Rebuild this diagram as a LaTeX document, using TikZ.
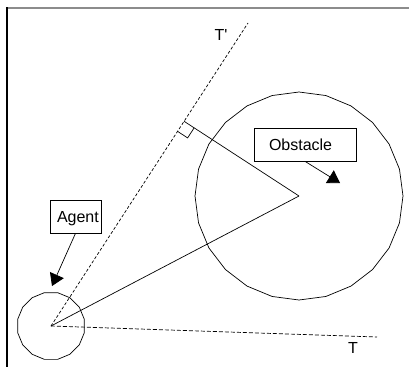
\documentclass[tikz,border=0pt]{standalone}
\usepackage{fontspec}
\setmainfont{Liberation Sans}
\usetikzlibrary{arrows.meta,calc,shapes.geometric}
\begin{document}
\begin{tikzpicture}[x=1pt,y=-1pt,
  thinline/.style={line width=0.7pt,black},
  dashT/.style={thinline,dash pattern=on 4pt off 2pt},
  dashTp/.style={thinline,dash pattern=on 3pt off 2pt},
  labelbox/.style={draw,thinline,minimum height=33pt,text height=11.5pt,text depth=0pt,align=left,font=\fontsize{16}{19}\selectfont},
  pointer/.style={thinline,-{Triangle[length=12pt,width=15pt]}},
  lbl/.style={inner sep=0pt,font=\fontsize{16}{19}\selectfont}]
\useasboundingbox (0,0) rectangle (409,367);
% frame
\draw[line width=2pt,gray!90] (7,8) -- (409,8);
\draw[line width=1.5pt,black] (7,7) -- (7,367);
% circles
\node[regular polygon,regular polygon sides=24,shape border rotate=7.5,minimum size=208pt,inner sep=0pt,outer sep=0pt,draw,thinline] (obstacle) at (299,196) {};
\node[regular polygon,regular polygon sides=16,minimum size=68pt,inner sep=0pt,outer sep=0pt,draw,thinline] (agent) at (51,326) {};
\coordinate (tpend) at (248,23);
\coordinate (tend) at (377,337);
% tangents
\draw[dashTp] (agent.center) -- (tpend);
\draw[dashT] (agent.center) -- (tend);
% lines
\draw[thinline] (agent.center) -- (obstacle.center);
\coordinate (foot) at ($(agent.center)!(obstacle.center)!(tpend)$);
\draw[thinline] (obstacle.center) -- (foot);
\coordinate (ra) at ($(foot)!12pt!(obstacle.center)$);
\coordinate (rb) at ($(foot)!12pt!(agent.center)$);
\draw[thinline] (ra) -- ($(ra)+(rb)-(foot)$) -- (rb);
% labels
\node[lbl] (tplabel) at (221,34.5) {T\textquotesingle};
\node[lbl] (tlabel) at (353,348) {T};
\node[labelbox,inner xsep=15pt,text width=72pt] (obsbox) at (305,144.5) {Obstacle};
\node[labelbox,inner xsep=7pt,text width=37pt] (agentbox) at (75.5,216.5) {Agent};
\coordinate (obstip) at (340,183);
\coordinate (agenttip) at (52,286);
\draw[pointer] (obsbox.south) -- (obstip);
\draw[pointer] (agentbox.south) -- (agenttip);
\end{tikzpicture}
\end{document}
